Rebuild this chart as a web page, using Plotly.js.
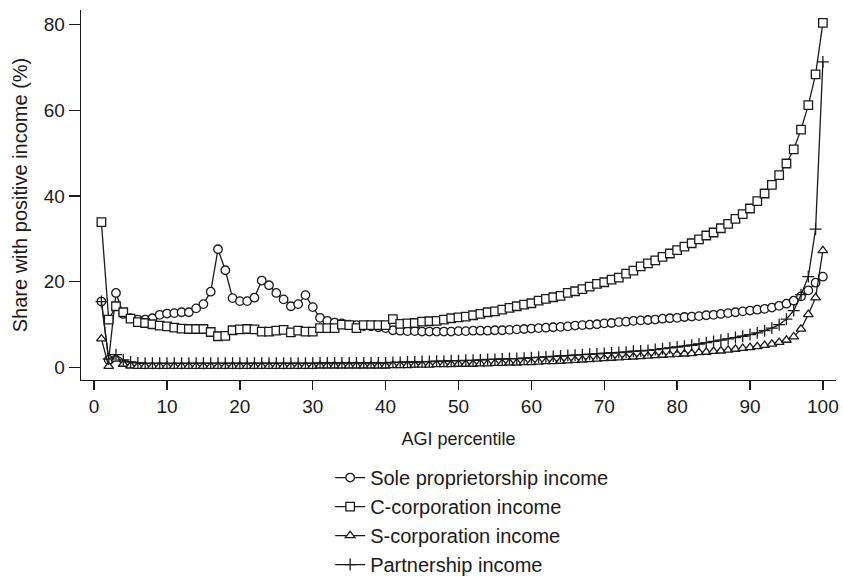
<!DOCTYPE html>
<html>
<head>
<meta charset="utf-8">
<script src="https://cdn.plot.ly/plotly-3.0.1.min.js"></script>
<style>html,body{margin:0;padding:0;background:#fff;}#chart{width:843px;height:578px;}</style>
</head>
<body>
<div id="chart"></div>
<script>
const percentile = [1,2,3,4,5,6,7,8,9,10,11,12,13,14,15,16,17,18,19,20,21,22,23,24,25,26,27,28,29,30,31,32,33,34,35,36,37,38,39,40,41,42,43,44,45,46,47,48,49,50,51,52,53,54,55,56,57,58,59,60,61,62,63,64,65,66,67,68,69,70,71,72,73,74,75,76,77,78,79,80,81,82,83,84,85,86,87,88,89,90,91,92,93,94,95,96,97,98,99,100];

const soleProp = [15.4,1.8,17.4,12.5,11.5,11.2,11.2,11.5,12.3,12.6,12.7,12.9,12.9,13.8,14.8,17.7,27.6,22.7,16.2,15.5,15.5,16.3,20.3,19.2,17.4,15.9,14.3,14.8,16.9,14.1,11.6,10.9,10.5,10.3,10.0,9.9,9.7,9.6,9.4,9.2,8.7,8.6,8.5,8.5,8.4,8.4,8.4,8.4,8.4,8.5,8.5,8.6,8.6,8.6,8.7,8.7,8.8,8.9,9.0,9.1,9.2,9.3,9.4,9.5,9.6,9.8,9.9,10.0,10.1,10.3,10.4,10.6,10.7,10.9,11.0,11.1,11.2,11.4,11.5,11.6,11.8,11.9,12.0,12.2,12.3,12.5,12.7,12.9,13.1,13.3,13.5,13.7,14.0,14.4,14.9,15.6,16.6,18.0,19.8,21.2];

const cCorp = [33.9,11.2,14.3,12.9,11.4,10.6,10.4,10.1,9.8,9.6,9.3,9.1,9.0,9.0,9.0,8.3,7.3,7.4,8.7,8.9,9.0,8.9,8.4,8.4,8.6,8.8,8.2,8.6,8.4,8.4,9.2,9.2,9.2,10.0,9.9,9.2,9.9,9.9,9.9,9.9,11.3,10.2,10.3,10.4,10.7,10.8,10.9,11.2,11.5,11.7,11.9,12.2,12.5,12.9,13.1,13.5,13.9,14.3,14.7,15.0,15.6,16.0,16.4,16.7,17.4,17.8,18.3,18.9,19.5,19.9,20.5,21.0,21.9,22.6,23.6,24.3,25.0,25.8,26.6,27.4,28.2,29.0,29.9,30.8,31.5,32.5,33.5,34.7,35.8,37.1,38.8,40.6,42.6,44.9,47.6,50.9,55.5,61.2,68.4,80.4];

const sCorp = [6.7,0.3,2.0,0.8,0.4,0.3,0.3,0.3,0.3,0.3,0.3,0.3,0.3,0.3,0.3,0.3,0.3,0.3,0.3,0.3,0.3,0.3,0.3,0.3,0.3,0.3,0.3,0.3,0.3,0.3,0.4,0.4,0.4,0.4,0.4,0.4,0.4,0.4,0.4,0.4,0.5,0.5,0.5,0.6,0.6,0.6,0.7,0.7,0.7,0.8,0.8,0.8,0.9,0.9,1.0,1.0,1.1,1.1,1.2,1.2,1.3,1.4,1.4,1.5,1.6,1.7,1.8,1.9,2.0,2.1,2.2,2.3,2.4,2.5,2.6,2.7,2.8,2.9,3.0,3.1,3.2,3.3,3.5,3.6,3.8,3.9,4.1,4.3,4.5,4.7,4.9,5.2,5.5,5.9,6.4,7.2,9.0,12.4,16.3,27.3];

const partnership = [15.4,2.0,3.0,1.8,1.3,1.1,1.0,1.0,1.0,1.0,1.0,1.0,1.0,1.0,1.0,1.0,1.0,1.0,1.0,1.0,1.0,1.0,1.0,1.0,1.0,1.0,1.0,1.0,1.0,1.0,1.1,1.1,1.1,1.1,1.1,1.1,1.1,1.1,1.1,1.1,1.2,1.2,1.3,1.3,1.4,1.4,1.5,1.5,1.6,1.6,1.7,1.7,1.8,1.9,1.9,2.0,2.1,2.1,2.2,2.3,2.4,2.5,2.6,2.7,2.8,2.9,3.0,3.1,3.2,3.3,3.4,3.5,3.6,3.8,3.9,4.0,4.2,4.4,4.6,4.8,5.0,5.2,5.5,5.8,6.1,6.4,6.7,7.0,7.3,7.7,8.1,8.6,9.2,10.0,11.3,13.3,17.0,21.2,32.3,71.3];

const seriesNames = ['Sole proprietorship income','C-corporation income','S-corporation income','Partnership income'];
const xTicks = [0,10,20,30,40,50,60,70,80,90,100];
const yTicks = [0,20,40,60,80];

const FONT = 'Liberation Sans, Arial, sans-serif';
const INK = '#1a1a1a';

function hollow(symbol, size) {
  return {symbol: symbol, size: size, color: '#ffffff', line: {color: INK, width: 1.3}};
}

const traces = [
  {x: percentile, y: soleProp, name: seriesNames[0], legendgroup: 'a',
   mode: 'lines+markers', line: {color: INK, width: 1.3}, marker: hollow('circle', 8.5)},
  {x: percentile, y: cCorp, name: seriesNames[1], legendgroup: 'b',
   mode: 'lines+markers', line: {color: INK, width: 1.3}, marker: hollow('square', 8.5)},
  {x: percentile, y: sCorp, name: seriesNames[2], legendgroup: 'c',
   mode: 'lines+markers', line: {color: INK, width: 1.3}, marker: hollow('triangle-up', 8.5)},
  {x: percentile, y: partnership, name: seriesNames[3], legendgroup: 'd',
   mode: 'lines+markers', line: {color: INK, width: 1.3},
   marker: {symbol: 'cross-thin', size: 8.5, color: INK, line: {color: INK, width: 1.3}}}
];

const layout = {
  width: 843, height: 578,
  margin: {l: 81, r: 7, t: 10, b: 198, autoexpand: false},
  paper_bgcolor: '#ffffff', plot_bgcolor: '#ffffff',
  font: {family: FONT, size: 19, color: INK},
  showlegend: true,
  legend: {
    x: 0.33, xanchor: 'left', y: -0.211, yanchor: 'top',
    orientation: 'v', traceorder: 'grouped', tracegroupgap: 0,
    font: {family: FONT, size: 20, color: INK},
    bgcolor: 'rgba(0,0,0,0)'
  },
  xaxis: {
    range: [-1.8, 101.8], tickvals: xTicks, ticktext: xTicks.map(String),
    showgrid: false, zeroline: false, showline: true, linecolor: INK, linewidth: 1.3,
    ticks: 'outside', ticklen: 9, tickwidth: 1.3, tickcolor: INK,
    tickfont: {family: FONT, size: 19, color: INK},
    title: {text: 'AGI percentile', font: {family: FONT, size: 18, color: INK}, standoff: 16},
    automargin: false
  },
  yaxis: {
    range: [-2.9, 83.4], tickvals: yTicks, ticktext: yTicks.map(String),
    showgrid: false, zeroline: false, showline: true, linecolor: INK, linewidth: 1.3,
    ticks: 'outside', ticklen: 11, tickwidth: 1.3, tickcolor: INK,
    tickfont: {family: FONT, size: 19, color: INK},
    title: {text: 'Share with positive income (%)', font: {family: FONT, size: 20, color: INK}, standoff: 10},
    automargin: false
  }
};

Plotly.newPlot('chart', traces, layout, {displayModeBar: false, staticPlot: true});
</script>
</body>
</html>
